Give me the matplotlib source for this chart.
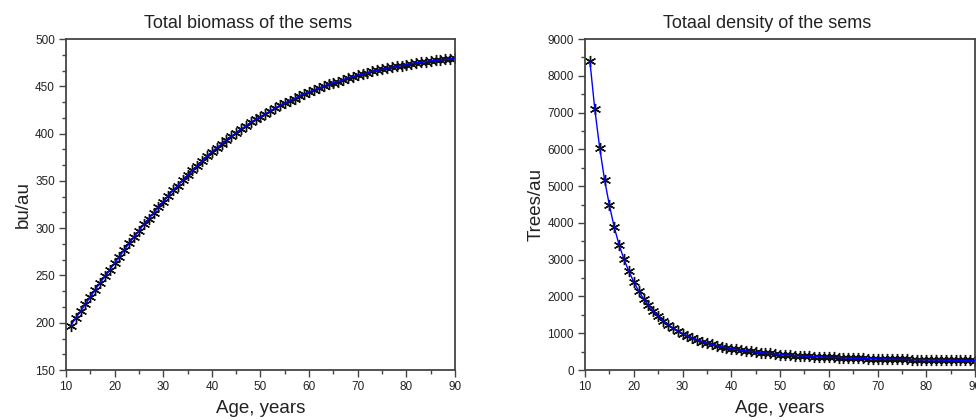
import matplotlib.pyplot as plt
from matplotlib.ticker import MultipleLocator, AutoMinorLocator

plt.rcParams['font.family'] = ['Liberation Sans', 'DejaVu Sans']

# stand age, years
age = list(range(11, 91))

# total biomass, bu/au
biomass = [197, 205, 212, 220, 227, 235, 242, 249, 256, 263,
           270, 277, 284, 291, 297, 304, 310, 316, 322, 328,
           334, 340, 345, 351, 356, 361, 366, 371, 376, 381,
           385, 389, 393, 397, 401, 405, 408, 412, 415, 418,
           421, 424, 427, 430, 432, 435, 437, 440, 442, 444,
           446, 448, 450, 452, 454, 455, 457, 459, 460, 462,
           463, 464, 466, 467, 468, 469, 470, 471, 472, 473,
           474, 475, 475.5, 476, 477, 477.5, 478, 478.5, 479, 480]

# tree density, trees/au
density = [8400, 7100, 6050, 5180, 4480, 3880, 3400, 3010, 2680, 2400,
           2150, 1940, 1760, 1600, 1460, 1340, 1235, 1140, 1060, 990,
           925, 868, 818, 773, 732, 696, 663, 633, 606, 582,
           560, 540, 521, 504, 489, 475, 462, 450, 439, 420,
           411, 402, 394, 386, 379, 372, 365, 359, 353, 347,
           342, 337, 332, 327, 323, 319, 315, 311, 307, 304,
           301, 298, 295, 292, 289, 287, 284, 282, 280, 277,
           275, 273, 271, 269, 267, 265, 263, 261, 260, 258]

fig = plt.figure(figsize=(9.76, 4.2), dpi=100)
ax1 = fig.add_axes([0.0676, 0.119, 0.3986, 0.788])
ax2 = fig.add_axes([0.5994, 0.119, 0.3996, 0.788])

panels = [
    (ax1, biomass, 'Total biomass of the sems', 'bu/au', (150, 500), 50, 3),
    (ax2, density, 'Totaal density of the sems', 'Trees/au', (0, 9000), 1000, 2),
]

for ax, vals, title, ylab, ylim, ystep, ysub in panels:
    # six-spoke asterisk markers, blue curve drawn over them
    ax.plot(age, vals, ls='none', marker=(6, 2, 0), ms=8, mec='#111111',
            mew=1.0, zorder=2)
    ax.plot(age, vals, color='blue', lw=1, zorder=3)
    ax.set_xlim(10, 90)
    ax.set_ylim(*ylim)
    ax.xaxis.set_major_locator(MultipleLocator(10))
    ax.xaxis.set_minor_locator(AutoMinorLocator(2))
    ax.yaxis.set_major_locator(MultipleLocator(ystep))
    ax.yaxis.set_minor_locator(AutoMinorLocator(ysub))
    for s in ax.spines.values():
        s.set_color('#444444')
        s.set_linewidth(1.3)
    ax.tick_params(which='major', direction='out', length=5, width=1,
                   color='#444444', labelsize=8.5, labelcolor='#222222', pad=3)
    ax.tick_params(which='minor', direction='out', length=3, width=1,
                   color='#444444')
    ax.set_title(title, fontsize=13, color='#222222', x=0.468, pad=8)
    ax.set_xlabel('Age, years', fontsize=13.5, color='#222222', labelpad=5)
    ax.set_ylabel(ylab, fontsize=13.5, color='#222222', labelpad=2)

fig.savefig('out.png', dpi=100)
